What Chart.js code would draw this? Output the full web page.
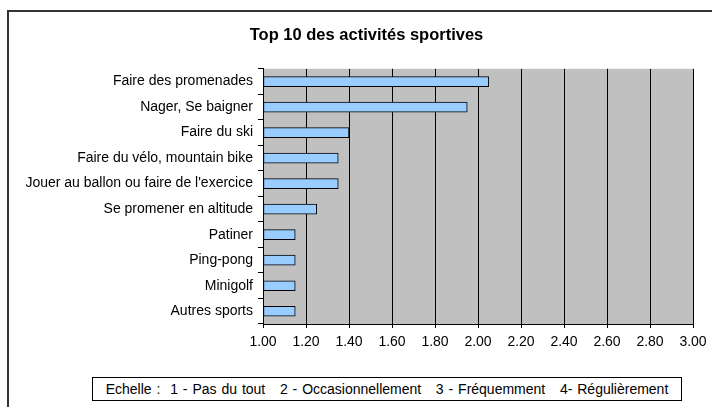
<!DOCTYPE html>
<html>
<head>
<meta charset="utf-8">
<script src="https://cdn.jsdelivr.net/npm/chart.js@4.4.1/dist/chart.umd.min.js"></script>
<style>
  body { margin: 0; background: #fff; }
  #wrap { position: relative; width: 712px; height: 407px; overflow: hidden; }
  #frame { position: absolute; left: 7px; top: 10px; width: 800px; height: 500px;
           border-left: 2px solid #333; border-top: 2px solid #333; }
  #scale { position: absolute; left: 92px; top: 377px; width: 588px; height: 22px;
           border: 1px solid #000; background: #fff; font: 14px "Liberation Sans", Arial, sans-serif;
           line-height: 22px; text-align: center; white-space: pre; word-spacing: 1px; color: #000; }
  canvas { position: absolute; left: 0; top: 0; }
</style>
</head>
<body>
<div id="wrap">
  <div id="frame"></div>
  <canvas id="chart" width="712" height="407"></canvas>
  <div id="scale">Echelle :  1 - Pas du tout   2 - Occasionnellement   3 - Fréquemment   4- Régulièrement</div>
</div>
<script>
const activities = [
  'Faire des promenades',
  'Nager, Se baigner',
  'Faire du ski',
  'Faire du vélo, mountain bike',
  "Jouer au ballon ou faire de l'exercice",
  'Se promener en altitude',
  'Patiner',
  'Ping-pong',
  'Minigolf',
  'Autres sports'
];
const scores = [2.05, 1.95, 1.40, 1.35, 1.35, 1.25, 1.15, 1.15, 1.15, 1.15];
const scaleMin = 1.0;
const scaleMax = 3.0;
const scaleStep = 0.2;

Chart.defaults.font.family = '"Liberation Sans", Arial, sans-serif';
Chart.defaults.font.size = 14;
Chart.defaults.color = '#000';

const plotBackground = {
  id: 'plotBackground',
  beforeDraw(chart) {
    const { ctx, chartArea: a } = chart;
    ctx.save();
    ctx.fillStyle = '#c0c0c0';
    ctx.fillRect(a.left, a.top, a.right - a.left, a.bottom - a.top);
    ctx.restore();
  }
};

// title in the original sits a little right of the page centre
const titleShift = {
  id: 'titleShift',
  afterLayout(chart) {
    if (chart.titleBlock) chart.titleBlock.left += 40;
  }
};

new Chart(document.getElementById('chart'), {
  type: 'bar',
  data: {
    labels: activities,
    datasets: [{
      data: scores,
      base: scaleMin,
      backgroundColor: '#99ccff',
      borderColor: '#000',
      borderWidth: 1,
      borderSkipped: false,
      barThickness: 10
    }]
  },
  options: {
    indexAxis: 'y',
    responsive: false,
    animation: false,
    layout: { padding: { left: 0, right: 19, top: 0, bottom: 0 } },
    plugins: {
      legend: { display: false },
      tooltip: { enabled: false },
      title: {
        display: true,
        text: 'Top 10 des activités sportives',
        font: { size: 16.5, weight: 'bold' },
        color: '#000',
        padding: { top: 26, bottom: 23 }
      }
    },
    scales: {
      x: {
        min: scaleMin,
        max: scaleMax,
        ticks: {
          stepSize: scaleStep,
          padding: 6,
          maxRotation: 0,
          callback: (v) => Number(v).toFixed(2)
        },
        grid: { color: '#000', tickLength: 4 },
        border: { color: '#000' },
        afterFit(scale) {
          scale.height = 83;
          scale.paddingLeft = 0;
          scale.paddingRight = 0;
        }
      },
      y: {
        ticks: { padding: 5 },
        grid: { drawOnChartArea: false, color: '#000', tickLength: 5, offset: true },
        border: { color: '#000' },
        afterFit(scale) {
          scale.width = 263;
          scale.paddingTop = 0;
          scale.paddingBottom = 0;
        }
      }
    }
  },
  plugins: [plotBackground, titleShift]
});
</script>
</body>
</html>
